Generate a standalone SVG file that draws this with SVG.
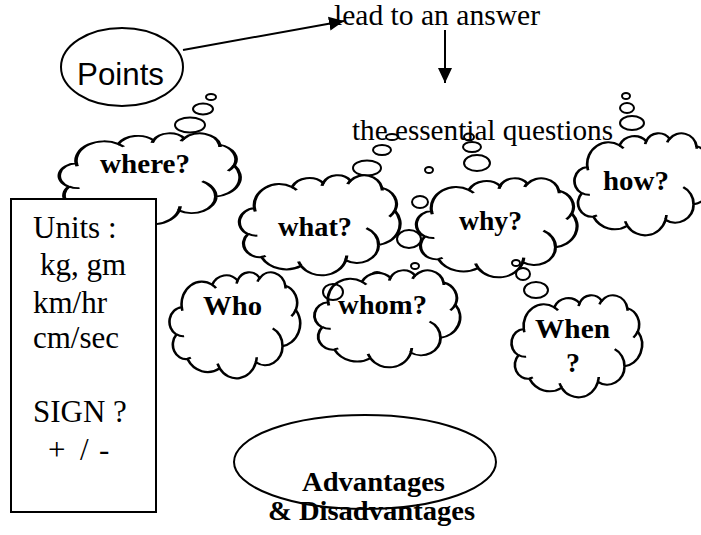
<svg xmlns="http://www.w3.org/2000/svg" xmlns:xlink="http://www.w3.org/1999/xlink" width="701" height="535" viewBox="0 0 701 535">
<style>
.outline{fill:#fff;stroke:#000;stroke-width:2;vector-effect:non-scaling-stroke}
.hooks{fill:none;stroke:#000;stroke-width:2;vector-effect:non-scaling-stroke}
.bub{fill:#fff;stroke:#000;stroke-width:2}
.lbl{font-family:"Liberation Serif","Times New Roman",serif;font-weight:bold;font-size:28px;fill:#000}
.txt{font-family:"Liberation Serif","Times New Roman",serif;font-size:29px;fill:#000}
.unit{font-family:"Liberation Serif","Times New Roman",serif;font-size:31px;fill:#000}
.shape{fill:#fff;stroke:#000;stroke-width:2}
.conn{fill:none;stroke:#000;stroke-width:2}
</style>
<defs>
<path id="cloudOutline" d="M9.03,33.26 A15.63,21.27 0 0 1 32.43,12.03 A12.34,16.82 0 0 1 51.98,7.93 A10.10,13.76 0 0 1 69.06,5.73 A11.24,15.27 0 0 1 88.70,12.89 A12.34,16.84 0 0 1 96.81,35.77 A15.68,21.34 0 0 1 86.59,69.90 A13.39,18.21 0 0 1 66.10,85.19 A15.63,21.33 0 0 1 38.15,90.87 A17.87,24.41 0 0 1 13.45,82.09 A10.09,13.70 0 0 1 4.91,59.12 A10.06,13.76 0 0 1 9.03,33.26 Z"/>
<path id="cloudHooks" d="M10.86,60.59 A10.06,13.76 0 0 1 4.99,58.75 M16.04,80.78 A10.09,13.70 0 0 1 13.47,81.67 M38.14,90.49 A15.63,21.33 0 0 1 36.60,86.46 M66.73,80.44 A15.63,21.33 0 0 1 66.11,84.86 M79.00,53.13 A13.39,18.21 0 0 1 86.53,69.65 M96.75,35.54 A12.34,16.84 0 0 1 93.40,41.74 M88.71,12.56 A11.24,15.27 0 0 1 88.89,15.48 M67.31,9.15 A11.24,15.27 0 0 1 69.03,5.42 M51.25,10.93 A10.10,13.76 0 0 1 52.08,7.71 M32.41,12.02 A15.63,21.27 0 0 1 35.41,15.14 M9.55,36.55 A15.63,21.27 0 0 1 9.03,33.26"/>
<marker id="head" markerUnits="userSpaceOnUse" markerWidth="16" markerHeight="16" viewBox="0 0 16 16" refX="15" refY="8" orient="auto">
<path d="M0,1 L15,8 L0,15 Z" fill="#000"/>
</marker>
</defs>

<g id="node-where">
<ellipse class="bub" cx="190" cy="125" rx="15" ry="7.5"/>
<ellipse class="bub" cx="203" cy="109" rx="10" ry="5.5"/>
<ellipse class="bub" cx="211" cy="97" rx="5" ry="3"/>
<g transform="translate(60,133) scale(1.80,0.91)"><use href="#cloudOutline" class="outline"/><use href="#cloudHooks" class="hooks"/></g>
<text class="lbl" x="100" y="173" textLength="90" lengthAdjust="spacingAndGlyphs">where?</text>
</g>

<g id="node-points">
<ellipse class="shape" cx="122" cy="67" rx="61" ry="39"/>
<text x="77" y="85" font-family="'Liberation Sans',Arial,sans-serif" font-size="31" textLength="87" lengthAdjust="spacingAndGlyphs">Points</text>
</g>

<g id="node-units">
<rect class="shape" x="11" y="199" width="145" height="313"/>
<text class="unit" x="33" y="238">Units :</text>
<text class="unit" x="40" y="275">kg, gm</text>
<text class="unit" x="33" y="313">km/hr</text>
<text class="unit" x="33" y="348">cm/sec</text>
<text class="unit" x="33" y="422">SIGN ?</text>
<text class="unit" y="460" font-size="29"><tspan x="48">+</tspan><tspan x="80">/</tspan><tspan x="99">-</tspan></text>
</g>

<g id="node-what">
<ellipse class="bub" cx="367" cy="168" rx="14" ry="7.5"/>
<ellipse class="bub" cx="382" cy="150" rx="9" ry="5"/>
<ellipse class="bub" cx="392" cy="137" rx="6" ry="3"/>
<g transform="translate(240,175) scale(1.60,1.00)"><use href="#cloudOutline" class="outline"/><use href="#cloudHooks" class="hooks"/></g>
<text class="lbl" x="278" y="236" textLength="74" lengthAdjust="spacingAndGlyphs">what?</text>
</g>

<g id="node-why">
<ellipse class="bub" cx="477" cy="163" rx="13" ry="8"/>
<ellipse class="bub" cx="472" cy="147" rx="9" ry="5"/>
<ellipse class="bub" cx="469" cy="137" rx="5" ry="3.5"/>
<ellipse class="bub" cx="429" cy="170" rx="4" ry="3"/>
<ellipse class="bub" cx="420" cy="202" rx="8" ry="6"/>
<g transform="translate(417,178) scale(1.60,0.99)"><use href="#cloudOutline" class="outline"/><use href="#cloudHooks" class="hooks"/></g>
<text class="lbl" x="459" y="230" textLength="63" lengthAdjust="spacingAndGlyphs">why?</text>
</g>

<g id="node-how">
<ellipse class="bub" cx="632" cy="123" rx="12" ry="7"/>
<ellipse class="bub" cx="627" cy="108" rx="7" ry="5"/>
<ellipse class="bub" cx="626" cy="96" rx="4" ry="3"/>
<g transform="translate(575,133) scale(1.37,1.02)"><use href="#cloudOutline" class="outline"/><use href="#cloudHooks" class="hooks"/></g>
<text class="lbl" x="603" y="190" textLength="66" lengthAdjust="spacingAndGlyphs">how?</text>
</g>

<g id="node-who">
<g transform="translate(170,272) scale(1.30,1.06)"><use href="#cloudOutline" class="outline"/><use href="#cloudHooks" class="hooks"/></g>
<text class="lbl" x="203" y="315" textLength="59" lengthAdjust="spacingAndGlyphs">Who</text>
</g>

<g id="node-whom">
<ellipse class="bub" cx="409" cy="239" rx="12" ry="9"/>
<ellipse class="bub" cx="415" cy="266" rx="4" ry="3"/>
<ellipse class="bub" cx="377" cy="278" rx="7" ry="6"/>
<g transform="translate(315,270) scale(1.45,0.97)"><use href="#cloudOutline" class="outline"/><use href="#cloudHooks" class="hooks"/></g>
<ellipse cx="333" cy="292" rx="10" ry="8" fill="none" stroke="#000" stroke-width="2"/>
<text class="lbl" x="338" y="314" textLength="89" lengthAdjust="spacingAndGlyphs">whom?</text>
</g>

<g id="node-when">
<ellipse class="bub" cx="536" cy="290" rx="12" ry="8"/>
<ellipse class="bub" cx="523" cy="274" rx="7" ry="6"/>
<ellipse class="bub" cx="516" cy="263" rx="4" ry="3"/>
<g transform="translate(512,295) scale(1.30,1.02)"><use href="#cloudOutline" class="outline"/><use href="#cloudHooks" class="hooks"/></g>
<text class="lbl" x="535" y="338" textLength="75" lengthAdjust="spacingAndGlyphs">When</text>
<text class="lbl" x="566" y="372">?</text>
</g>

<g id="node-adv">
<ellipse class="shape" cx="365" cy="462" rx="131" ry="47"/>
<text class="lbl" x="302" y="491" font-size="26" textLength="143" lengthAdjust="spacingAndGlyphs">Advantages</text>
<text class="lbl" x="268" y="520" font-size="26" textLength="207" lengthAdjust="spacingAndGlyphs">&amp; Disadvantages</text>
</g>

<g id="node-lead">
<text class="txt" x="334" y="25" textLength="206" lengthAdjust="spacingAndGlyphs">lead to an answer</text>
</g>

<g id="node-essential">
<text class="txt" x="352" y="140" textLength="261" lengthAdjust="spacingAndGlyphs">the essential questions</text>
</g>

<g id="connectors">
<line class="conn" x1="183" y1="50" x2="344" y2="21" marker-end="url(#head)"/>
<line class="conn" x1="445" y1="30" x2="445" y2="83" marker-end="url(#head)"/>
</g>
</svg>
